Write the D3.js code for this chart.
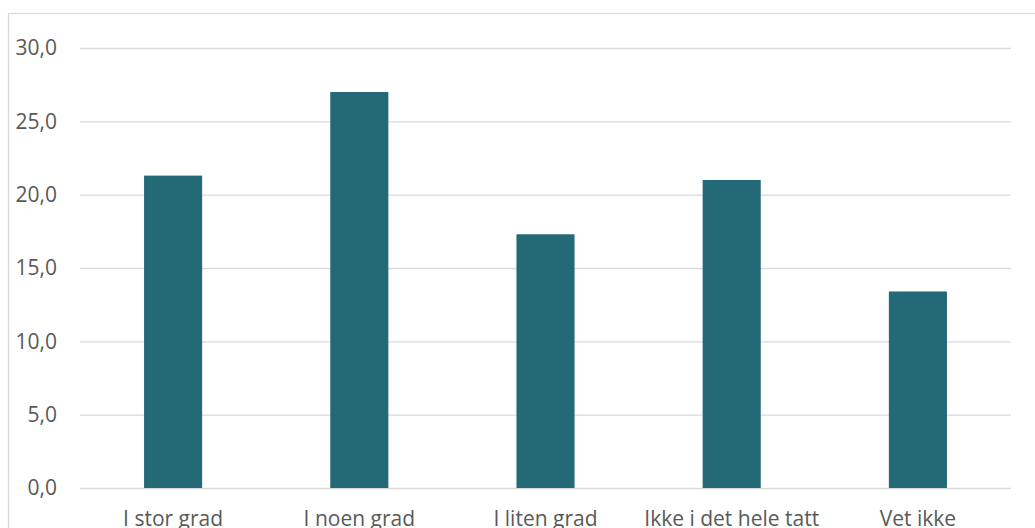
<!DOCTYPE html>
<html>
<head>
<meta charset="utf-8">
<script src="https://cdn.jsdelivr.net/npm/d3@7"></script>
<style>
  html, body { margin: 0; padding: 0; background: #fff; overflow: hidden; }
  svg { display: block; font-family: "Open Sans", "Noto Sans", sans-serif; }
  .tick text { fill: #595959; }
</style>
</head>
<body>
<svg id="chart" width="1035" height="528"></svg>
<script>
// ============ Data ============
const categories = ["I stor grad", "I noen grad", "I liten grad", "Ikke i det hele tatt", "Vet ikke"];
const values = [21.3, 27.0, 17.3, 21.0, 13.4];
const yTicks = [0, 5, 10, 15, 20, 25, 30];

// ============ Layout ============
const plot = { left: 80, right: 1011, top: 48, bottom: 488 };
const BAR_COLOR = "#236a76";
const GRID_COLOR = "#d9d9d9";
const FONT_SIZE = 21;

const svg = d3.select("#chart");

// chart frame
svg.append("rect")
  .attr("x", 8.5).attr("y", 13.5)
  .attr("width", 1035).attr("height", 530)
  .attr("fill", "none")
  .attr("stroke", GRID_COLOR)
  .attr("stroke-width", 1.3);

const x = d3.scaleBand()
  .domain(categories)
  .range([plot.left, plot.right])
  .paddingInner(0.688)
  .paddingOuter(0.344);

const y = d3.scaleLinear()
  .domain([0, 30])
  .range([plot.bottom, plot.top]);

// ---- Gridlines + y labels ----
const yAxis = svg.append("g")
  .attr("transform", `translate(${plot.left},0)`)
  .call(d3.axisLeft(y)
    .tickValues(yTicks)
    .tickSize(-(plot.right - plot.left))
    .tickPadding(23)
    .tickFormat(d => d3.format(".1f")(d).replace(".", ",")));
yAxis.select(".domain").remove();
yAxis.selectAll(".tick line").attr("stroke", GRID_COLOR).attr("stroke-width", 1.3);
yAxis.selectAll(".tick text").attr("font-size", FONT_SIZE).attr("font-family", "'Open Sans', 'Noto Sans', sans-serif");

// ---- Bars ----
svg.append("g")
  .selectAll("rect.bar")
  .data(values)
  .enter()
  .append("rect")
  .attr("class", "bar")
  .attr("x", (d, i) => x(categories[i]))
  .attr("width", x.bandwidth())
  .attr("y", d => y(d))
  .attr("height", d => y(0) - y(d))
  .attr("fill", BAR_COLOR);

// ---- X labels ----
const xAxis = svg.append("g")
  .attr("transform", `translate(0,${plot.bottom})`)
  .call(d3.axisBottom(x).tickSize(0).tickPadding(23));
xAxis.select(".domain").remove();
xAxis.selectAll(".tick text").attr("font-size", FONT_SIZE).attr("font-family", "'Open Sans', 'Noto Sans', sans-serif");
</script>
</body>
</html>
